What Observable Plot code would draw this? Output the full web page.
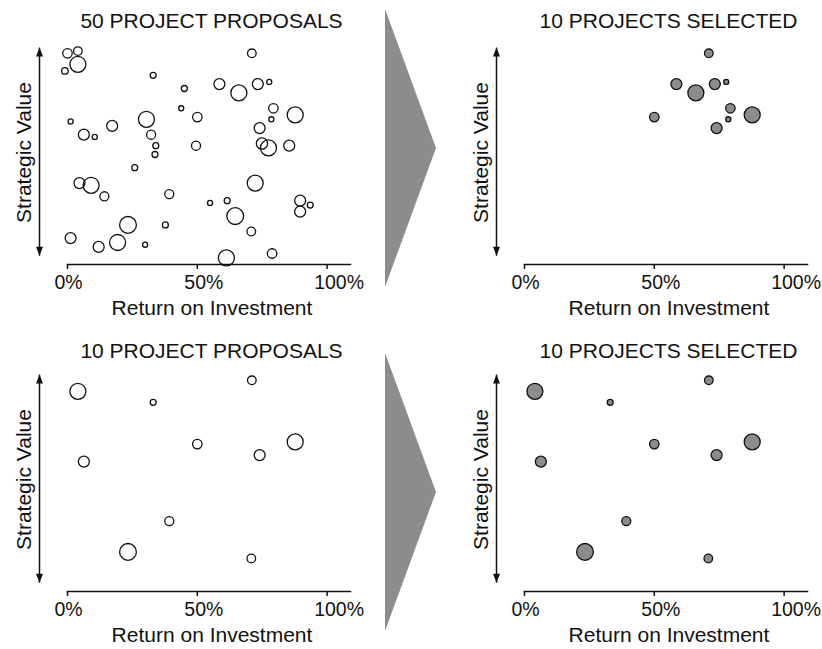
<!DOCTYPE html>
<html><head><meta charset="utf-8">
<script src="https://cdn.jsdelivr.net/npm/d3@7"></script>
<script src="https://cdn.jsdelivr.net/npm/@observablehq/plot@0.6"></script>
<style>
body{margin:0;background:#fff;}
#chart{position:relative;width:822px;height:649px;overflow:hidden;font-family:"Liberation Sans",Arial,sans-serif;}
#chart > svg{position:absolute;}
</style></head><body><div id="chart"></div>
<script>
// ---- data ----
const ids = d3.range(1, 51);
const roi = [0,4,4,-1,71,33,45,58.5,66,73.3, 77.7,43.8,50,79.3,87.7,1.2,17.2,30.4,6.3,10.5, 32.2,78.5,74,34,33.7,49.5,74.9,77.4,85.4,25.9, 4.6,9.1,14.2,39.2,72.3,54.9,61.5,89.6,93.5,89.6, 64.6,23.3,37.7,70.8,1.2,12,19.3,29.9,61.2,78.8];
const strategic = [96,97,91,88,96,86,80,82,78,82, 83,71,67,71,68,65,63,66,59,58, 59,66,62,54,50,54,55,53,54,44, 37,36,31,32,37,28,29,29,27,24, 22,18,18,15,12,8,10,9,3,5];
const cost = [35,29,100,17,29,14,14,47,100,47, 10,10,35,35,100,10,47,100,47,10, 32,10,47,14,14,32,50,100,47,14, 47,100,32,32,100,10,14,47,14,47, 110,110,14,29,47,47,100,10,100,35];
const selectedTop = [5,8,9,10,11,13,14,15,22,23];
const proposalsBottom = [3,5,6,13,15,19,23,34,42,44];
const titles = ["50 PROJECT PROPOSALS", "10 PROJECTS SELECTED", "10 PROJECT PROPOSALS", "10 PROJECTS SELECTED"];
const xTicks = [0, 50, 100];
const xLabel = "Return on Investment";
const yLabel = "Strategic Value";
const arrowSpan = [4, 98.6];

const projects = ids.map((id, i) => ({id, roi: roi[i], value: strategic[i], cost: cost[i]}));
const pick = list => projects.filter(d => list.includes(d.id));

const FONT = '"Liberation Sans", Arial, Helvetica, sans-serif';
const GRAY = "#8c8c8c";
const FS = 21;
const TICK_FS = 19.5;

const headUp = {draw(ctx){ctx.moveTo(0,0);ctx.lineTo(3.5,9);ctx.lineTo(-3.5,9);ctx.closePath();}};
const headDown = {draw(ctx){ctx.moveTo(0,0);ctx.lineTo(3.5,-9);ctx.lineTo(-3.5,-9);ctx.closePath();}};

function panel({data, title, filled, width, titleDy}) {
  return Plot.plot({
    width, height: 320,
    marginLeft: 67, marginRight: width - 350, marginTop: 44, marginBottom: 56,
    style: {fontFamily: FONT, fontSize: FS + "px", color: "#111", background: "transparent", overflow: "visible"},
    x: {domain: [0, 109]},
    y: {domain: [0, 100], axis: null},
    r: {type: "sqrt", domain: [0, 100], range: [0, 8]},
    marks: [
      Plot.frame({anchor: "bottom", strokeWidth: 1.5}),
      Plot.axisX({ticks: xTicks, tickSize: 5, tickFormat: () => "", label: null, strokeWidth: 1.5}),
      Plot.axisX({ticks: xTicks, tickSize: 0, tickPadding: 11, tickFormat: d => d + "%",
        textAnchor: "start", dx: -13, fontSize: TICK_FS, label: null}),
      Plot.link([arrowSpan], {x1: d => 0, x2: d => 0, y1: d => d[0], y2: d => d[1], dx: -28, strokeWidth: 1.5, stroke: "#111"}),
      Plot.dot([arrowSpan[1]], {x: d => 0, y: d => d, symbol: headUp, fill: "#111", dx: -28, r: 4}),
      Plot.dot([arrowSpan[0]], {x: d => 0, y: d => d, symbol: headDown, fill: "#111", dx: -28, r: 4}),
      Plot.text([yLabel], {frameAnchor: "left", rotate: -90, dx: -43.5, dy: -2, fontSize: FS, textAnchor: "middle", lineAnchor: "middle"}),
      Plot.text([xLabel], {frameAnchor: "bottom", lineAnchor: "top", dy: 36, dx: 3, fontSize: FS}),
      Plot.text([title], {frameAnchor: "top", lineAnchor: "top", dy: titleDy, dx: 2.5, fontSize: FS}),
      Plot.dot(data, {x: "roi", y: "value", r: "cost", fill: filled ? GRAY : "none", stroke: "#111", strokeWidth: 1.3})
    ]
  });
}

const chart = document.getElementById("chart");
const specs = [
  {data: projects, title: titles[0], filled: false, width: 370, left: 0, top: 0, titleDy: -31},
  {data: pick(selectedTop), title: titles[1], filled: true, width: 365, left: 457, top: 0, titleDy: -31},
  {data: pick(proposalsBottom), title: titles[2], filled: false, width: 370, left: 0, top: 327, titleDy: -28},
  {data: pick(proposalsBottom), title: titles[3], filled: true, width: 365, left: 457, top: 327, titleDy: -28}
];
for (const s of specs) {
  const svg = panel(s);
  svg.style.left = s.left + "px";
  svg.style.top = s.top + "px";
  chart.appendChild(svg);
}

// big gray process arrows between panels
const deco = d3.create("svg").attr("width", 822).attr("height", 649).style("left", "0px").style("top", "0px");
deco.append("polygon").attr("points", "385,9 436,148 385,287").attr("fill", GRAY);
deco.append("polygon").attr("points", "385,353 436,492 385,631").attr("fill", GRAY);
chart.appendChild(deco.node());
</script>
</body></html>
